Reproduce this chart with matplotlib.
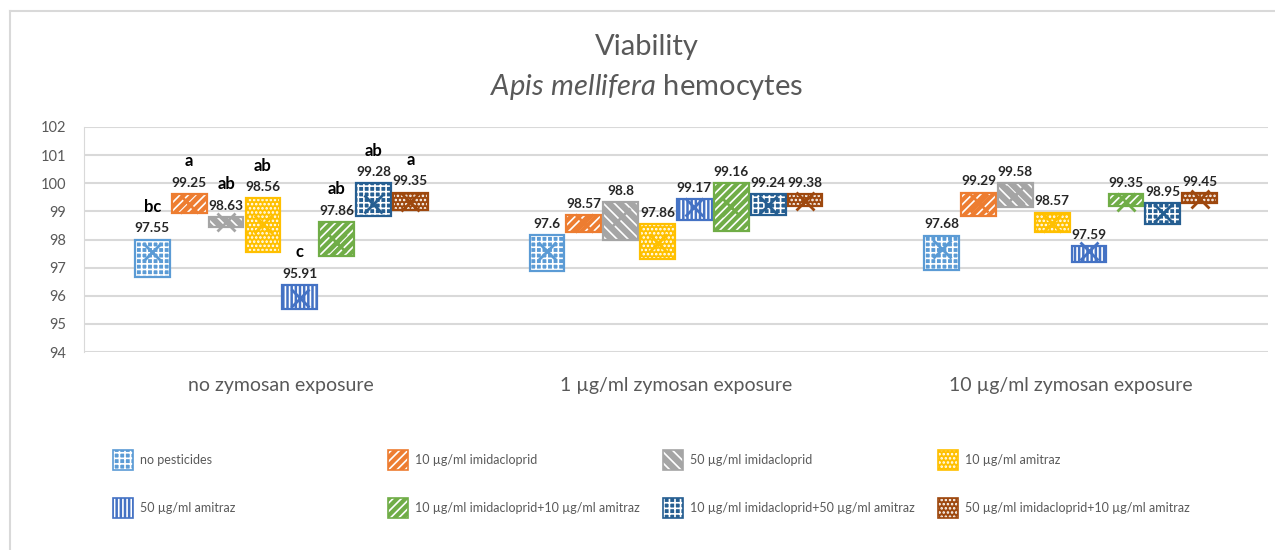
import numpy as np
import matplotlib.pyplot as plt
from matplotlib.patches import Rectangle
from matplotlib.lines import Line2D

plt.rcParams['font.family'] = ['Lato', 'DejaVu Sans']
plt.rcParams['hatch.linewidth'] = 1.2
plt.rcParams['mathtext.fontset'] = 'custom'
plt.rcParams['mathtext.it'] = 'Lato:italic'
plt.rcParams['mathtext.rm'] = 'Lato'

# data
categories = ['no zymosan exposure', '1 µg/ml zymosan exposure', '10 µg/ml zymosan exposure']
series = ['no pesticides', '10 µg/ml imidacloprid', '50 µg/ml imidacloprid', '10 µg/ml amitraz',
          '50 µg/ml amitraz', '10 µg/ml imidacloprid+10 µg/ml amitraz',
          '10 µg/ml imidacloprid+50 µg/ml amitraz', '50 µg/ml imidacloprid+10 µg/ml amitraz']

# lower / upper quartile of each box, per category
q1 = [[96.68, 98.93, 98.43, 97.57, 95.53, 97.43, 98.85, 99.05],
      [96.87, 98.27, 98.00, 97.31, 98.69, 98.31, 98.88, 99.20],
      [96.92, 98.85, 99.14, 98.28, 97.19, 99.18, 98.55, 99.30]]
q3 = [[98.00, 99.62, 98.81, 99.47, 96.38, 98.62, 100.00, 99.67],
      [98.17, 98.88, 99.32, 98.55, 99.44, 100.00, 99.62, 99.62],
      [98.14, 99.67, 100.00, 98.96, 97.78, 99.62, 99.28, 99.65]]
means = [[97.55, 99.25, 98.63, 98.56, 95.91, 97.86, 99.28, 99.35],
         [97.6, 98.57, 98.8, 97.86, 99.17, 99.16, 99.24, 99.38],
         [97.68, 99.29, 99.58, 98.57, 97.59, 99.35, 98.95, 99.45]]
letters = ['bc', 'a', 'ab', 'ab', 'c', 'ab', 'ab', 'a']  # only first group

colors = ['#5B9BD5', '#ED7D31', '#A5A5A5', '#FFC000', '#4472C4', '#70AD47', '#255E91', '#9E480E']
hatches = ['+++', '////', '\\\\\\', '....', '||||', '////', '+++', '....']

fig = plt.figure(figsize=(12.75, 5.5), dpi=100)
ax = fig.add_axes([84/1275, 1-352/550, (1268-84)/1275, (352-127)/550])

step = 0.0934
width = 0.088
for i in range(len(categories)):
    for j in range(len(series)):
        x = i + (j - 3.5) * step
        h = q3[i][j] - q1[i][j]
        ax.bar(x, h, width, bottom=q1[i][j], color=colors[j], edgecolor='white',
               hatch=hatches[j], linewidth=0, zorder=2)
        ax.bar(x, h, width, bottom=q1[i][j], fill=False, edgecolor=colors[j],
               linewidth=1.6, zorder=3)
        ax.plot(x, means[i][j], marker='x', ms=13, mew=2, color=colors[j], zorder=4)
        ax.annotate(f'{means[i][j]:g}', (x, q3[i][j]), xytext=(0, 8), textcoords='offset points',
                    ha='center', va='center', fontsize=9.8, fontweight='bold', color='#262626')
        if i == 0:
            ax.annotate(letters[j], (x, q3[i][j]), xytext=(0, 23.5), textcoords='offset points',
                        ha='center', va='center', fontsize=12, fontweight='bold', color='black')

ax.set_xlim(-0.5, 2.5)
ax.set_ylim(94, 102)
ax.set_yticks(np.arange(94, 103, 1))
ax.set_xticks(range(3), categories)
ax.yaxis.grid(True, color='#D9D9D9', linewidth=1.5)
ax.set_axisbelow(True)
for s in ['top', 'right', 'bottom']:
    ax.spines[s].set_visible(False)
ax.spines['left'].set_color('#D9D9D9')
ax.tick_params(axis='y', length=0, pad=13, labelsize=10.5, labelcolor='#595959')
ax.tick_params(axis='x', length=0, pad=18, labelsize=14, labelcolor='#595959')

fig.text(647/1275, 1-47/550, 'Viability', ha='center', va='center', fontsize=21, color='#595959')
fig.text(647/1275, 1-87/550, r'$\mathit{Apis\ mellifera}$ hemocytes', ha='center', va='center',
         fontsize=21, color='#595959')

# legend, 2 rows x 4 columns
lx = [113, 388, 663, 938]
ly = [460, 508]
for j in range(len(series)):
    px = lx[j % 4]
    py = ly[j // 4]
    r1 = Rectangle((px/1275, 1-(py+10)/550), 20/1275, 20/550, transform=fig.transFigure,
                   facecolor=colors[j], edgecolor='white', hatch=hatches[j], linewidth=0)
    r2 = Rectangle((px/1275, 1-(py+10)/550), 20/1275, 20/550, transform=fig.transFigure,
                   fill=False, edgecolor=colors[j], linewidth=1.2)
    fig.add_artist(r1)
    fig.add_artist(r2)
    fig.text((px+27)/1275, 1-py/550, series[j], ha='left', va='center', fontsize=9, color='#595959')

# chart border
fig.add_artist(Line2D([10/1275, 10/1275], [0, 1-11/550], color='#D9D9D9', lw=1.5))
fig.add_artist(Line2D([10/1275, 1], [1-11/550, 1-11/550], color='#D9D9D9', lw=1.5))

fig.savefig('out.png', dpi=100)
